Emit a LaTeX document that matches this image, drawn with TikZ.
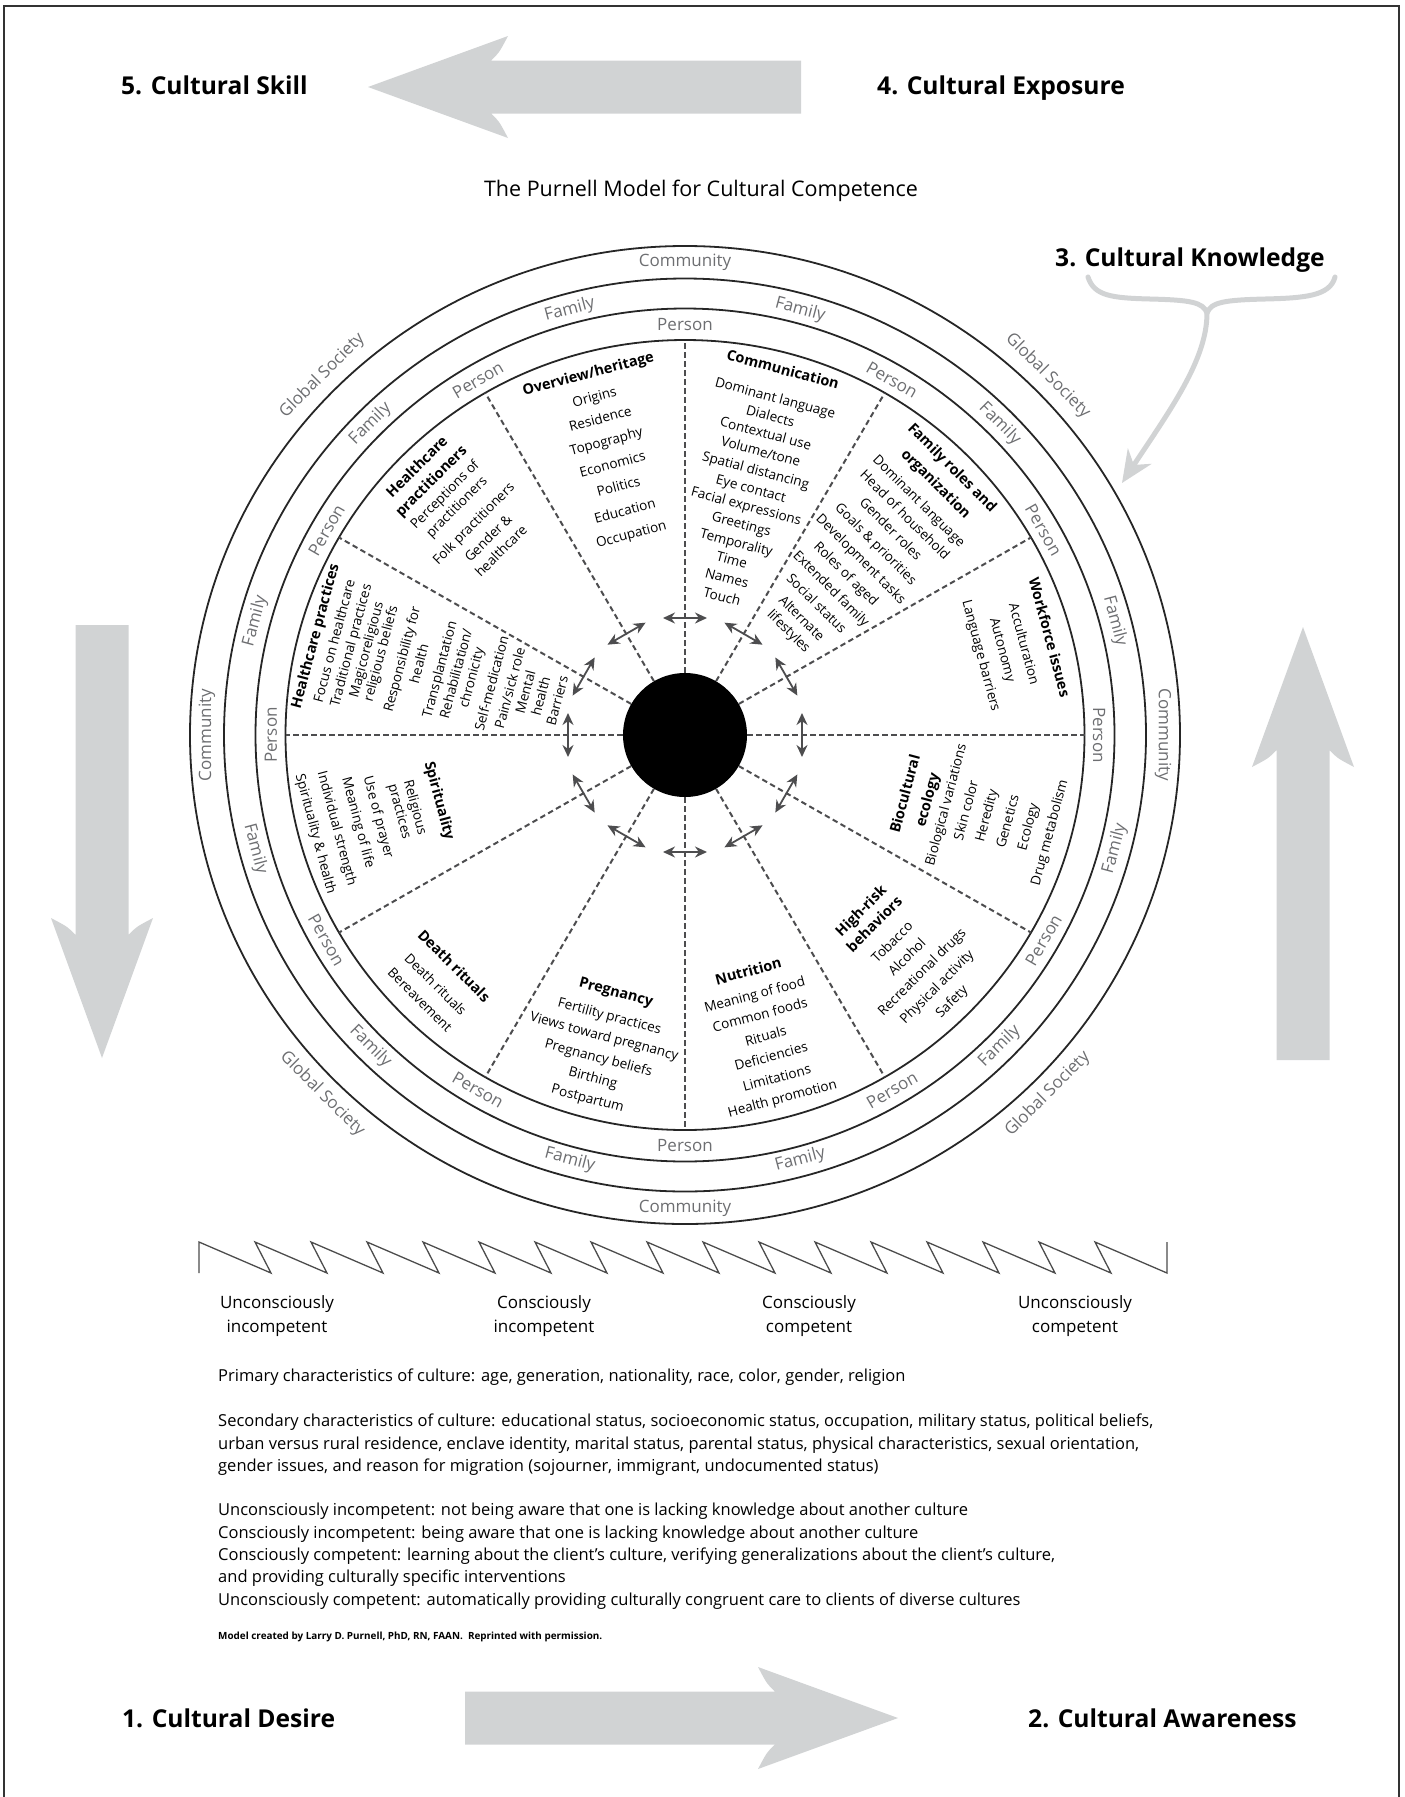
\documentclass[tikz,border=0pt]{standalone}
\usepackage{fontspec}
\setmainfont{Open Sans}
\usetikzlibrary{arrows.meta}
\definecolor{arrowgray}{HTML}{D1D3D4}
\definecolor{ringgray}{HTML}{6D6E71}
\definecolor{dashgray}{HTML}{4D4D4F}
\begin{document}
\begin{tikzpicture}[x=1pt, y=1pt,
  heading/.style={font=\fontsize{24.6}{28}\selectfont\bfseries, anchor=base west, inner sep=0},
  ring/.style={line width=1.8pt, black!85},
  ringlabel/.style={font=\fontsize{17}{20}\selectfont, text=ringgray, inner sep=0},
  spoke/.style={dashgray, line width=2pt, dash pattern=on 5.5pt off 3.5pt},
  hubarrow/.style={dashgray, line width=1.8pt, {Stealth[length=12pt,width=11pt]}-{Stealth[length=12pt,width=11pt]}},
  wtitle/.style={font=\fontsize{14.5}{17}\selectfont\bfseries, inner sep=0, text height=11pt, text depth=3.5pt},
  witem/.style={font=\fontsize{13.5}{16}\selectfont, inner sep=0, text height=10pt, text depth=3pt},
  brace/.style={arrowgray, line width=5pt, line cap=round},
  stage/.style={align=center, font=\fontsize{17}{24.5}\selectfont, inner sep=0},
  note/.style={anchor=base west, inner sep=0, font=\fontsize{16.5}{19}\selectfont}]
\useasboundingbox (0,0) rectangle (1405,-1797);
\draw[line width=2.5pt, black!80] (4,-1797) -- (4,-6) -- (1399,-6) -- (1399,-1797);

% the four big arrows
\foreach \x/\y/\a in {801/87/180, 102/625/-90, 1303/1060/90, 465/1718/0}
  \fill[arrowgray, shift={(\x,-\y)}, rotate=\a] (0,26.5) -- (310,26.5) .. controls (302,34) .. (293,51) -- (433,0) -- (293,-51) .. controls (302,-34) .. (310,-26.5) -- (0,-26.5) -- cycle;

\node[heading] (skill) at (121,-94) {5. Cultural Skill};
\node[heading] (exposure) at (877,-94) {4. Cultural Exposure};
\node[heading] (knowledge) at (1055,-266) {3. Cultural Knowledge};
\node[heading] (desire) at (122,-1727) {1. Cultural Desire};
\node[heading] (awareness) at (1028,-1727) {2. Cultural Awareness};
\node[font=\fontsize{21.5}{25}\selectfont, anchor=base, inner sep=0] (modeltitle) at (701,-196) {The Purnell Model for Cultural Competence};

% brace under cultural knowledge
\coordinate (bl) at (1088,-277);
\coordinate (br) at (1335,-277);
\coordinate (cusp) at (1207,-313);
\coordinate (ktip) at (1122,-483);
\draw[brace] (bl) .. controls (1094,-296) and (1112,-298) .. (1150,-299) .. controls (1190,-300) and (1203,-302) .. (cusp) .. controls (1211,-302) and (1225,-300) .. (1265,-299) .. controls (1305,-298) and (1330,-296) .. (br);
\draw[brace, -{Stealth[length=32pt,width=28pt]}] (cusp) .. controls (1207,-360) and (1170,-410) .. (ktip);

% the wheel
\begin{scope}[shift={(685,-735)}]
\node[circle, fill=black, minimum size=124pt, inner sep=0] (hub) at (0,0) {};
\draw[ring] (0,0) circle [x radius=495, y radius=489];
\draw[ring] (0,0) circle [x radius=461, y radius=456.5];
\draw[ring] (0,0) circle [x radius=429.5, y radius=426.5];
\draw[ring] (0,0) circle [x radius=399.5, y radius=395];
\foreach \a in {0,30,...,330} {
  \draw[spoke] (hub.\a) -- (\a:399.5 and 395);
  \draw[hubarrow, rotate=\a] (117,-22) -- (117,22);
}
\foreach \a in {0,30,...,330} {
  \pgfmathsetmacro\rot{\a<181 ? \a-90 : \a+90}
  \node[ringlabel, rotate=\rot] (person\a) at (\a:414 and 410) {Person};
}
\foreach \a in {15,45,...,345} {
  \pgfmathsetmacro\rot{\a<181 ? \a-90 : \a+90}
  \node[ringlabel, rotate=\rot] (family\a) at (\a:445 and 440) {Family};
}
\foreach \a in {0,90,180,270} {
  \pgfmathsetmacro\rot{\a<181 ? \a-90 : \a+90}
  \node[ringlabel, rotate=\rot] (community\a) at (\a:478 and 473) {Community};
}
\foreach \a in {45,135,225,315} {
  \pgfmathsetmacro\rot{\a<181 ? \a-90 : \a+90}
  \node[ringlabel, rotate=\rot] (global\a) at (\a:513 and 508) {Global Society};
}

% overview/heritage
\node[wtitle, rotate=15] (overview) at (105:373) {Overview/heritage};
\foreach \r/\t [count=\i] in {349/Origins, 326/Residence, 303/Topography, 279/Economics, 256/Politics, 231/Education, 207/Occupation}
  \node[witem, rotate=15] (ov\i) at (105:\r) {\t};
% communication
\node[wtitle, rotate=-15] (communication) at (75:377) {Communication};
\foreach \r/\t [count=\i] in {348/Dominant language, 329/Dialects, 311/Contextual use, 292/{Volume/tone}, 273/Spatial distancing, 254/Eye contact, 236/Facial expressions, 217/Greetings, 198/Temporality, 180/Time, 161/Names, 142/Touch}
  \node[witem, rotate=-15] (co\i) at (75:\r) {\t};
% family roles
\node[wtitle, rotate=-45] (family) at (45:377) {Family roles and};
\node[wtitle, rotate=-45] (family2) at (45:354) {organization};
\foreach \r/\t [count=\i] in {330/Dominant language, 310/Head of household, 290/Gender roles, 269/Goals \& priorities, 248/Development tasks, 227/Roles of aged, 206/Extended family, 185/Social status, 164/Alternate, 146/lifestyles}
  \node[witem, rotate=-45] (fa\i) at (45:\r) {\t};
% workforce
\node[wtitle, rotate=-75] (workforce) at (15:376) {Workforce issues};
\foreach \r/\t [count=\i] in {350/Acculturation, 328/Autonomy, 306/Language barriers}
  \node[witem, rotate=-75] (wo\i) at (15:\r) {\t};
% biocultural ecology
\node[wtitle, rotate=75] (bio) at (345:229) {Biocultural};
\node[wtitle, rotate=75] (bio2) at (345:252) {ecology};
\foreach \r/\t [count=\i] in {271/Biological variations, 292/Skin color, 313/Heredity, 335/Genetics, 356/Ecology, 378/Drug metabolism}
  \node[witem, rotate=75] (bi\i) at (345:\r) {\t};
% high-risk behaviors
\node[wtitle, rotate=45] (risk) at (315:250) {High-risk};
\node[wtitle, rotate=45] (risk2) at (315:269) {behaviors};
\foreach \r/\t [count=\i] in {294/Tobacco, 315/Alcohol, 336/Recreational drugs, 357/Physical activity, 378/Safety}
  \node[witem, rotate=45] (hr\i) at (315:\r) {\t};
% nutrition
\node[wtitle, rotate=15] (nutrition) at (285:246) {Nutrition};
\foreach \r/\t [count=\i] in {270/Meaning of food, 291/Common foods, 313/Rituals, 334/Deficiencies, 356/Limitations, 377/Health promotion}
  \node[witem, rotate=15] (nu\i) at (285:\r) {\t};
% pregnancy
\node[wtitle, rotate=-15] (pregnancy) at (255:267) {Pregnancy};
\foreach \r/\t [count=\i] in {292/Fertility practices, 313/Views toward pregnancy, 335/Pregnancy beliefs, 356/Birthing, 377/Postpartum}
  \node[witem, rotate=-15] (pr\i) at (255:\r) {\t};
% death rituals
\node[wtitle, rotate=-45] (death) at (225:328) {Death rituals};
\foreach \r/\t [count=\i] in {354/Death rituals, 376/Bereavement}
  \node[witem, rotate=-45] (de\i) at (225:\r) {\t};
% spirituality
\node[wtitle, rotate=-75] (spirit) at (195:255) {Spirituality};
\foreach \r/\t [count=\i] in {280/Religious, 296/practices, 318/Use of prayer, 339/Meaning of life, 361/Individual strength, 383/Spirituality \& health}
  \node[witem, rotate=-75] (sp\i) at (195:\r) {\t};
% healthcare practices
\node[wtitle, rotate=75] (practices) at (165:382) {Healthcare practices};
\foreach \r/\t [count=\i] in {362/Focus on healthcare, 345/Traditional practices, 329/Magicoreligious, 314/religious beliefs, 292/Responsibility for, 274/health, 253/Transplantation, 236/{Rehabilitation/}, 220/chronicity, 199/Self-medication, 180/{Pain/sick role}, 164/Mental, 148/health, 131/Barriers}
  \node[witem, rotate=75] (hp\i) at (165:\r) {\t};
% healthcare practitioners
\node[wtitle, rotate=45] (practitioners) at (135:378) {Healthcare};
\node[wtitle, rotate=45] (practitioners2) at (135:358) {practitioners};
\foreach \r/\t [count=\i] in {339/Perceptions of, 322/practitioners, 298/Folk practitioners, 277/Gender \&, 259/healthcare}
  \node[witem, rotate=45] (pp\i) at (135:\r) {\t};
\end{scope}

% competence scale
\draw[black!70, line width=1.3pt] (199,-1273) -- (199,-1242) \foreach \i in {0,...,15} { -- ({271+56*\i},-1273) -- ({255+56*\i},-1242) } -- (1167,-1273) -- (1167,-1242);
\foreach \x/\t [count=\i] in {277/{Unconsciously\\incompetent}, 544/{Consciously\\incompetent}, 809/{Consciously\\competent}, 1075/{Unconsciously\\competent}}
  \node[stage] (stage\i) at (\x,-1316) {\t};

\foreach \y/\t [count=\i] in {1381/{Primary characteristics of culture: age, generation, nationality, race, color, gender, religion},
  1426/{Secondary characteristics of culture: educational status, socioeconomic status, occupation, military status, political beliefs,},
  1449/{urban versus rural residence, enclave identity, marital status, parental status, physical characteristics, sexual orientation,},
  1471/{gender issues, and reason for migration (sojourner, immigrant, undocumented status)},
  1515/{Unconsciously incompetent: not being aware that one is lacking knowledge about another culture},
  1538/{Consciously incompetent: being aware that one is lacking knowledge about another culture},
  1560/{Consciously competent: learning about the client’s culture, verifying generalizations about the client’s culture,},
  1582/{and providing culturally specific interventions},
  1605/{Unconsciously competent: automatically providing culturally congruent care to clients of diverse cultures}}
  \node[note] (note\i) at (218,-\y) {\t};
\node[note, font=\fontsize{9.9}{12}\selectfont\bfseries] (credit) at (218,-1639) {Model created by Larry D. Purnell, PhD, RN, FAAN.\ \ Reprinted with permission.};
\end{tikzpicture}
\end{document}
